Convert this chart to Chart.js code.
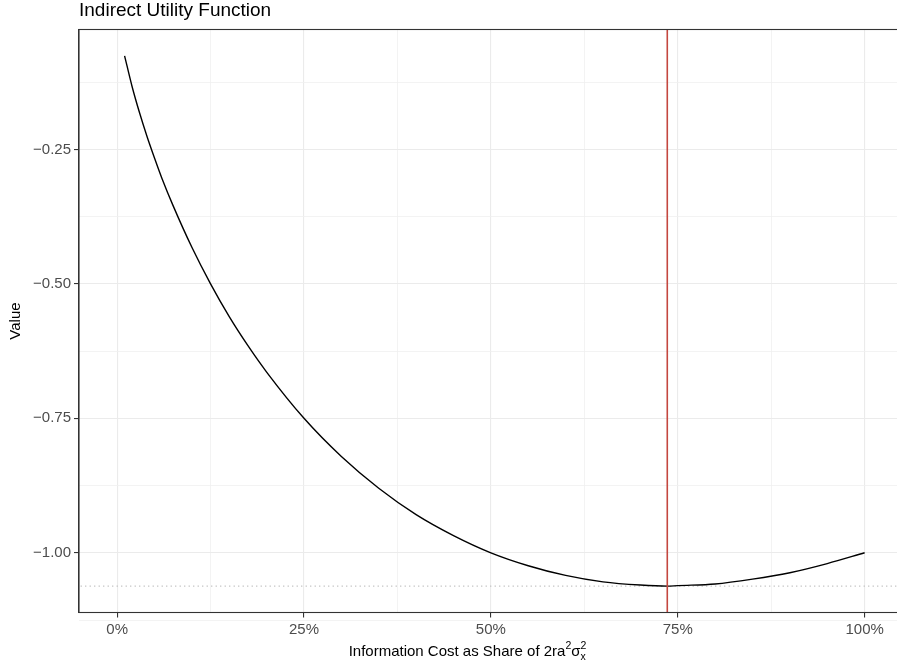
<!DOCTYPE html>
<html>
<head>
<meta charset="utf-8">
<title>Indirect Utility Function</title>
<script src="https://cdn.jsdelivr.net/npm/chart.js@4.4.1/dist/chart.umd.min.js"></script>
<style>
  html, body { margin: 0; padding: 0; background: #fff; overflow: hidden; }
  #wrap { width: 897px; height: 667px; overflow: hidden; }
</style>
</head>
<body>
<div id="wrap"><canvas id="utilityChart" width="902" height="667"></canvas></div>
<script>
// cost share (x) and indirect utility (y)
var costShare = [0.01, 0.02, 0.03, 0.04, 0.05, 0.06, 0.075, 0.1, 0.125, 0.15, 0.175, 0.2,
    0.25, 0.3, 0.35, 0.4, 0.45, 0.5, 0.55, 0.6, 0.65, 0.7, 0.736, 0.75, 0.8, 0.85, 0.9, 0.95, 1.0];
var utilityValue = [-0.076, -0.133, -0.182, -0.226, -0.266, -0.304, -0.355, -0.432, -0.5, -0.561, -0.615, -0.664,
    -0.75, -0.821, -0.880, -0.929, -0.968, -1.0, -1.024, -1.042, -1.054, -1.060, -1.062, -1.061, -1.058, -1.049, -1.037, -1.020, -1.0];

var optimumShare = 0.736;
var minimumValue = -1.062;

var xTicks = [0, 0.25, 0.5, 0.75, 1];
var xTickLabels = ['0%', '25%', '50%', '75%', '100%'];
var xMinorTicks = [0.125, 0.375, 0.625, 0.875];
var yTicks = [-1, -0.75, -0.5, -0.25];
var yTickLabels = ['\u22121.00', '\u22120.75', '\u22120.50', '\u22120.25'];
var yMinorTicks = [-1.125, -0.875, -0.625, -0.375, -0.125];

var fontFamily = '"Liberation Sans", Arial, Helvetica, sans-serif';

var curvePoints = costShare.map(function (x, i) { return { x: x, y: utilityValue[i] }; });

var panelPlugin = {
    id: 'panel',
    afterDatasetsDraw: function (chart) {
        var ctx = chart.ctx, a = chart.chartArea;
        ctx.save();
        ctx.strokeStyle = '#333333';
        ctx.lineWidth = 1.1;
        ctx.strokeRect(a.left, a.top, a.right - a.left, a.bottom - a.top);
        ctx.restore();
    },
    afterDraw: function (chart) {
        var ctx = chart.ctx, a = chart.chartArea;
        ctx.save();
        ctx.fillStyle = '#000';
        ctx.textBaseline = 'alphabetic';
        ctx.textAlign = 'left';
        // plot title
        ctx.font = '19px ' + fontFamily;
        ctx.fillText('Indirect Utility Function', a.left, 16);

        // x axis title with superscripts / subscript
        var base = '15px ' + fontFamily;
        var small = '10.5px ' + fontFamily;
        var y = 656;
        ctx.font = base;
        var w1 = ctx.measureText('Information Cost as Share of 2ra').width;
        var wSig = ctx.measureText('\u03c3').width;
        ctx.font = small;
        var wSup = ctx.measureText('2').width;
        var total = w1 + wSup + wSig + wSup + 1;
        var x = 468 - total / 2;
        ctx.font = base;
        ctx.fillText('Information Cost as Share of 2ra', x, y);
        x += w1;
        ctx.font = small;
        ctx.fillText('2', x, y - 7);
        x += wSup;
        ctx.font = base;
        ctx.fillText('\u03c3', x, y);
        x += wSig;
        ctx.font = small;
        ctx.fillText('2', x, y - 7);
        ctx.fillText('x', x, y + 4);
        ctx.restore();
    }
};

var ctx = document.getElementById('utilityChart').getContext('2d');
var utilityChart = new Chart(ctx, {
    type: 'line',
    data: {
        datasets: [{
            // optimal cost share
            data: [{ x: optimumShare, y: -2 }, { x: optimumShare, y: 1 }],
            borderColor: '#C4473F',
            borderWidth: 1.6,
            pointRadius: 0,
            tension: 0
        }, {
            data: curvePoints,
            borderColor: '#000000',
            borderWidth: 1.4,
            pointRadius: 0,
            cubicInterpolationMode: 'monotone'
        }, {
            // minimum value guide
            data: [{ x: -1, y: minimumValue }, { x: 2, y: minimumValue }],
            borderColor: '#bdbdbd',
            borderWidth: 1.1,
            borderDash: [1.2, 3.3],
            pointRadius: 0,
            tension: 0
        }]
    },
    options: {
        responsive: false,
        animation: false,
        events: [],
        layout: { padding: { top: 29.5, left: 0, right: 0, bottom: 0 } },
        plugins: {
            legend: { display: false },
            tooltip: { enabled: false },
            title: { display: false }
        },
        scales: {
            x: {
                type: 'linear',
                position: 'bottom',
                min: -0.051,
                max: 1.05,
                afterBuildTicks: function (scale) {
                    scale.ticks = xTicks.map(function (v) { return { value: v }; });
                },
                afterFit: function (scale) { scale.height = 54.5; },
                ticks: {
                    autoSkip: false,
                    maxRotation: 0,
                    padding: 3,
                    color: '#4d4d4d',
                    font: { size: 15, family: fontFamily },
                    callback: function (value) {
                        var i = xTicks.indexOf(value);
                        return i >= 0 ? xTickLabels[i] : '';
                    }
                },
                grid: {
                    color: '#ebebeb',
                    lineWidth: 1.1,
                    drawTicks: true,
                    tickLength: 5,
                    tickColor: '#333333',
                    tickWidth: 1.1
                },
                border: { display: true, color: '#333333', width: 1.1 }
            },
            xMinor: {
                type: 'linear',
                position: 'bottom',
                min: -0.051,
                max: 1.05,
                afterBuildTicks: function (scale) {
                    scale.ticks = xMinorTicks.map(function (v) { return { value: v }; });
                },
                afterFit: function (scale) { scale.height = 0; },
                ticks: { display: false },
                grid: { color: '#f0f0f0', lineWidth: 0.8, drawTicks: false },
                border: { display: false }
            },
            y: {
                type: 'linear',
                position: 'left',
                min: -1.111,
                max: -0.0271,
                afterBuildTicks: function (scale) {
                    scale.ticks = yTicks.map(function (v) { return { value: v }; });
                },
                afterFit: function (scale) { scale.width = 79; },
                ticks: {
                    autoSkip: false,
                    padding: 3,
                    color: '#4d4d4d',
                    font: { size: 15, family: fontFamily },
                    callback: function (value) {
                        var i = yTicks.indexOf(value);
                        return i >= 0 ? yTickLabels[i] : '';
                    }
                },
                title: {
                    display: true,
                    text: 'Value',
                    color: '#000',
                    font: { size: 15, family: fontFamily },
                    padding: { top: 7, bottom: 0 }
                },
                grid: {
                    color: '#ebebeb',
                    lineWidth: 1.1,
                    drawTicks: true,
                    tickLength: 5,
                    tickColor: '#333333',
                    tickWidth: 1.1
                },
                border: { display: true, color: '#333333', width: 1.1 }
            },
            yMinor: {
                type: 'linear',
                position: 'left',
                min: -1.111,
                max: -0.0271,
                afterBuildTicks: function (scale) {
                    scale.ticks = yMinorTicks.map(function (v) { return { value: v }; });
                },
                afterFit: function (scale) { scale.width = 0; },
                ticks: { display: false },
                grid: { color: '#f0f0f0', lineWidth: 0.8, drawTicks: false },
                border: { display: false }
            }
        }
    },
    plugins: [panelPlugin]
});
</script>
</body>
</html>
